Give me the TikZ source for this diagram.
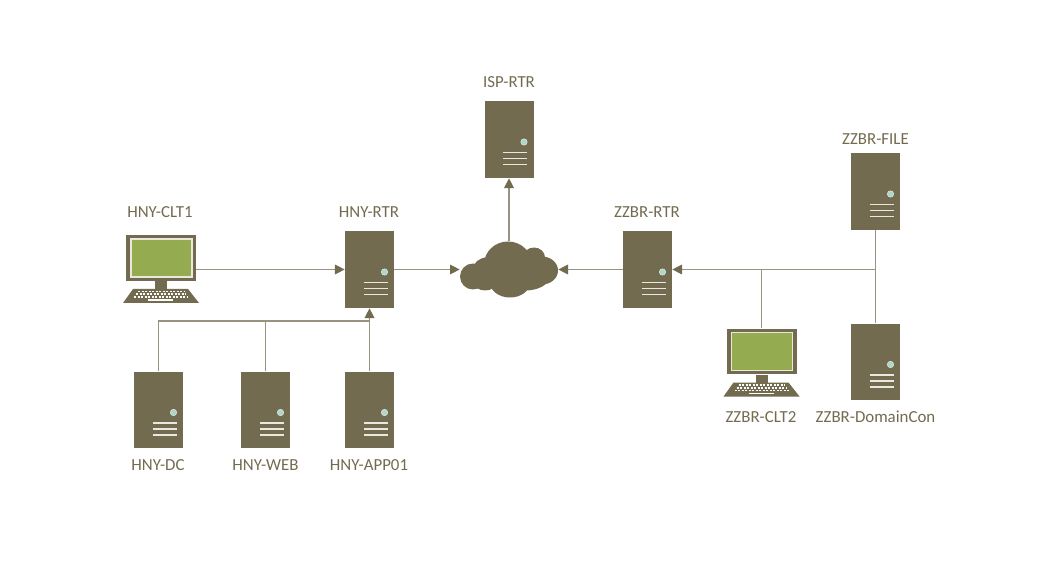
\documentclass[tikz,border=0pt]{standalone}
\usepackage{fontspec}
\setmainfont{Carlito}
\usetikzlibrary{arrows.meta}

\definecolor{hwbrown}{HTML}{736B50}
\definecolor{linkgrey}{HTML}{989381}
\definecolor{screengreen}{HTML}{94AB4F}
\definecolor{ledteal}{HTML}{A9D8CC}
\definecolor{edgecream}{HTML}{E9E7DE}

\tikzset{
	caption/.style={text=hwbrown, font=\fontsize{9.6pt}{11pt}\selectfont, inner sep=0pt},
	link/.style={draw=linkgrey, line width=0.7pt},
	arrowlink/.style={link, -{Triangle[length=5.5pt,width=5.5pt,color=hwbrown]}},
	servernode/.style={fill=hwbrown, inner sep=0pt, minimum width=0.98cm, minimum height=1.54cm,
		path picture={
			\fill[ledteal, draw=edgecream, line width=0.3pt] (15,2.5) circle (3.2);
			\foreach \rowy in {13,19,25}
				\draw[edgecream, line width=1.1pt] (-6,\rowy) -- (18,\rowy);
		}},
	cloudnode/.style={inner sep=0pt, minimum width=1.96cm, minimum height=1.12cm,
		path picture={
			\fill[hwbrown] (-36,7) ellipse (13 and 13);
			\fill[hwbrown] (-24,12) ellipse (12 and 9);
			\fill[hwbrown] (-1,-5) ellipse (24 and 23);
			\fill[hwbrown] (-22,0) ellipse (14 and 12);
			\fill[hwbrown] (25,-12) ellipse (11 and 10);
			\fill[hwbrown] (33,1) ellipse (16 and 14);
			\fill[hwbrown] (16,8) ellipse (24 and 13);
			\fill[hwbrown] (1,13) ellipse (20 and 15);
		}},
	pcicon/.pic={
		\node[fill=hwbrown, inner sep=0pt, minimum width=1.4cm, minimum height=0.92cm,
			path picture={
				\fill[screengreen, draw=edgecream, line width=0.6pt] (-30,-19) rectangle (31,19);
			}] (-screen) at (0,0) {};
		\fill[hwbrown] (-6,23) rectangle (6,31);
		\fill[hwbrown] (-28,31) -- (27,31) -- (38,45) -- (-38,45) -- cycle;
		\foreach \rowy/\rowx in {33.5/23,36.3/25,39/27}
			\draw[white, line width=1pt, dash pattern=on 1.3pt off 0.7pt] (-\rowx,\rowy) -- (\rowx,\rowy);
		\draw[white, line width=1.1pt] (-13,42) -- (12,42);
	}
}

\begin{document}
\begin{tikzpicture}[x=0.02cm, y=-0.02cm]
	\useasboundingbox (0,0) rectangle (1053,580);

	%routers
	\node[servernode] (isprtr) at (509,139.5) {};
	\node[servernode] (hnyrtr) at (369.5,269.5) {};
	\node[servernode] (zzbrrtr) at (647.5,269.5) {};
	\node[cloudnode] (inet) at (509,269.5) {};

	%servers
	\node[servernode] (hnydc) at (158.5,410) {};
	\node[servernode] (hnyweb) at (265.5,410) {};
	\node[servernode] (hnyapp) at (369.5,410) {};
	\node[servernode] (zzbrfile) at (875.5,191.5) {};
	\node[servernode] (zzbrdc) at (875.5,362) {};

	%clients
	\pic (hnyclt) at (161,258) {pcicon};
	\pic (zzbrclt) at (761.5,351.5) {pcicon};

	%names
	\node[caption] (ispname) at (509,82) {ISP-RTR};
	\node[caption] (hnyrtrname) at (369,212) {HNY-RTR};
	\node[caption] (zzbrrtrname) at (647,212) {ZZBR-RTR};
	\node[caption] (filename) at (875.5,139) {ZZBR-FILE};
	\node[caption] (dcname) at (158,465) {HNY-DC};
	\node[caption] (webname) at (265.5,465) {HNY-WEB};
	\node[caption] (appname) at (369,465) {HNY-APP01};
	\node[caption] (domainname) at (875.5,417) {ZZBR-DomainCon};
	\node[caption] (hnycltname) at (160,212) {HNY-CLT1};
	\node[caption] (zzbrcltname) at (761,417) {ZZBR-CLT2};

	%joints
	\coordinate (hnybus) at (369.5,321);
	\coordinate (zzbrbus) at (zzbrfile |- zzbrrtr);

	%left side
	\draw[arrowlink] (hnyclt-screen.east |- hnyrtr) -- (hnyrtr);
	\draw[arrowlink] (hnyapp) -- (hnyrtr);
	\draw[link] (hnydc) |- (hnybus);
	\draw[link] (hnyweb) -- (hnyweb |- hnybus);

	%middle
	\draw[arrowlink] (hnyrtr) -- (inet);
	\draw[arrowlink] (zzbrrtr) -- (inet);
	\draw[arrowlink] (inet) -- (isprtr);

	%right side
	\draw[arrowlink] (zzbrbus) -- (zzbrrtr);
	\draw[link] (zzbrfile) -- (zzbrdc);
	\draw[link] (zzbrclt-screen.north) -- (zzbrclt-screen.north |- zzbrbus);

\end{tikzpicture}
\end{document}
